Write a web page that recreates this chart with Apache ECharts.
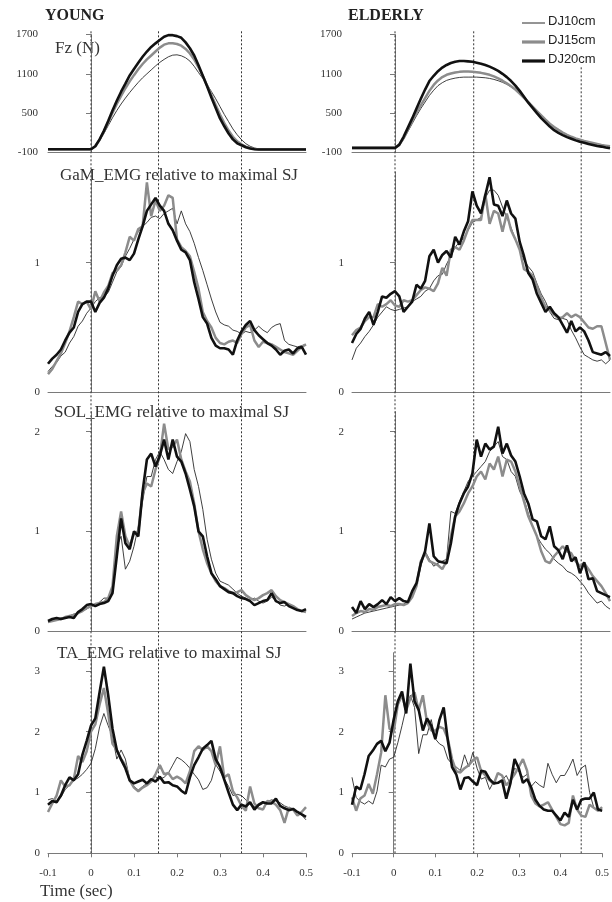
<!DOCTYPE html>
<html><head><meta charset="utf-8">
<script src="https://cdn.jsdelivr.net/npm/echarts@6/dist/echarts.min.js"></script>
<style>html,body{margin:0;padding:0;background:#fff}#c{width:612px;height:902px}</style>
</head><body><div id="c"></div>
<script>
const time = [-0.10,-0.09,-0.08,-0.07,-0.06,-0.05,-0.04,-0.03,-0.02,-0.01,0.00,
0.01,0.02,0.03,0.04,0.05,0.06,0.07,0.08,0.09,0.10,
0.11,0.12,0.13,0.14,0.15,0.16,0.17,0.18,0.19,0.20,
0.21,0.22,0.23,0.24,0.25,0.26,0.27,0.28,0.29,0.30,
0.31,0.32,0.33,0.34,0.35,0.36,0.37,0.38,0.39,0.40,
0.41,0.42,0.43,0.44,0.45,0.46,0.47,0.48,0.49,0.50];

const seriesNames = ['DJ10cm','DJ15cm','DJ20cm'];
const groupTitles = ['YOUNG','ELDERLY'];
const panelTitles = ['Fz (N)','GaM_EMG relative to maximal SJ','SOL_EMG relative to maximal SJ','TA_EMG relative to maximal SJ'];
const xTitle = 'Time (sec)';
const phaseYoung = [0, 0.157, 0.35];
const phaseElderly = [0, 0.183, 0.433];

// Fz (N)
const fzYoung10 = [-50,-50,-50,-50,-50,-50,-50,-50,-50,-50,-50,
-10,80,190,310,430,540,640,730,815,895,
970,1040,1100,1160,1220,1275,1320,1360,1385,1390,
1375,1345,1295,1215,1120,1030,935,830,720,600,
480,370,260,170,95,35,-5,-30,-45,-50,
-50,-50,-50,-50,-50,-50,-50,-50,-50,-50];
const fzYoung15 = [-50,-50,-50,-50,-50,-50,-50,-50,-50,-50,-50,
-5,95,220,360,505,640,765,880,985,1080,
1170,1250,1320,1380,1440,1500,1545,1565,1565,1555,
1530,1480,1410,1320,1200,1065,920,775,625,480,
350,235,140,70,25,-10,-30,-45,-50,-50,
-50,-50,-50,-50,-50,-50,-50,-50,-50,-50];
const fzYoung20 = [-50,-50,-50,-50,-50,-50,-50,-50,-50,-50,-50,
-5,100,230,380,540,690,827,950,1075,1175,
1270,1360,1440,1510,1565,1615,1665,1690,1690,1675,
1650,1580,1490,1380,1230,1070,910,740,580,420,
300,190,100,40,10,-20,-40,-50,-55,-55,
-55,-55,-55,-55,-55,-55,-55,-55,-55,-55];
const fzElderly10 = [-30,-30,-30,-30,-30,-30,-30,-30,-30,-30,-30,
10,100,220,340,460,570,670,770,850,920,
965,1000,1020,1035,1045,1050,1050,1050,1050,1045,
1040,1030,1015,995,970,940,900,855,800,740,
675,610,540,470,405,345,290,240,200,165,
135,110,90,70,55,40,25,10,0,-10];
const fzElderly15 = [-30,-30,-30,-30,-30,-30,-30,-30,-30,-30,-30,
15,120,250,380,510,620,730,840,930,1000,
1050,1085,1105,1120,1130,1135,1135,1130,1125,1115,
1100,1085,1060,1030,995,955,910,860,800,735,
670,600,530,465,400,340,290,245,205,170,
140,115,95,75,60,45,30,15,5,-5];
const fzElderly20 = [-30,-30,-30,-30,-30,-30,-30,-30,-30,-30,-30,
20,140,280,420,570,720,860,990,1070,1140,
1195,1235,1265,1285,1295,1295,1290,1285,1270,1255,
1235,1210,1180,1145,1100,1050,990,920,840,750,
660,580,500,425,360,295,240,200,165,135,
110,85,65,50,30,15,0,-10,-25,-35];

// GaM EMG
const gamYoung10 = [0.16,0.20,0.23,0.28,0.31,0.38,0.43,0.51,0.55,0.61,0.65,
0.70,0.73,0.74,0.77,0.85,0.93,0.97,1.05,1.11,1.18,
1.24,1.28,1.31,1.35,1.36,1.34,1.38,1.40,1.42,1.30,
1.40,1.30,1.24,1.15,1.04,0.94,0.83,0.72,0.62,0.54,
0.52,0.51,0.48,0.47,0.45,0.47,0.46,0.48,0.51,0.48,
0.46,0.50,0.52,0.53,0.40,0.37,0.36,0.35,0.36,0.37];
const gamYoung15 = [0.14,0.18,0.24,0.30,0.38,0.47,0.58,0.70,0.68,0.70,0.64,
0.78,0.70,0.77,0.82,0.92,0.94,0.98,1.08,1.20,1.17,
1.26,1.28,1.62,1.36,1.48,1.40,1.44,1.52,1.50,1.18,
1.12,1.09,1.05,0.93,0.80,0.62,0.55,0.50,0.42,0.38,
0.37,0.39,0.40,0.38,0.45,0.50,0.52,0.40,0.35,0.39,
0.38,0.37,0.35,0.33,0.31,0.30,0.29,0.32,0.35,0.37];
const gamYoung20 = [0.22,0.26,0.29,0.33,0.40,0.46,0.50,0.62,0.68,0.70,0.70,
0.62,0.69,0.73,0.80,0.90,0.98,1.03,1.04,1.02,1.07,
1.18,1.28,1.40,1.45,1.50,1.44,1.40,1.30,1.25,1.17,
1.10,1.08,1.02,0.85,0.72,0.58,0.53,0.42,0.36,0.34,
0.34,0.33,0.29,0.40,0.47,0.52,0.55,0.48,0.44,0.41,
0.38,0.36,0.33,0.29,0.32,0.33,0.30,0.34,0.35,0.29];
const gamElderly10 = [0.25,0.34,0.38,0.43,0.47,0.52,0.58,0.62,0.66,0.64,0.63,
0.64,0.65,0.66,0.70,0.72,0.74,0.78,0.80,0.86,0.90,
0.91,0.99,1.05,1.12,1.16,1.19,1.25,1.31,1.33,1.35,
1.50,1.56,1.56,1.52,1.43,1.35,1.27,1.18,1.10,1.02,
0.97,0.93,0.84,0.76,0.70,0.62,0.57,0.56,0.57,0.56,
0.48,0.42,0.35,0.29,0.27,0.25,0.24,0.25,0.22,0.25];
const gamElderly15 = [0.44,0.48,0.50,0.55,0.58,0.58,0.68,0.66,0.68,0.71,0.67,
0.66,0.71,0.70,0.71,0.75,0.79,0.81,0.80,0.78,0.84,
0.96,0.90,1.10,1.12,1.10,1.17,1.26,1.33,1.33,1.33,
1.53,1.30,1.40,1.38,1.24,1.38,1.25,1.18,1.10,0.95,
0.93,0.90,0.82,0.73,0.66,0.63,0.60,0.57,0.58,0.61,
0.58,0.60,0.58,0.54,0.50,0.49,0.51,0.51,0.38,0.25];
const gamElderly20 = [0.38,0.45,0.49,0.57,0.62,0.52,0.62,0.74,0.73,0.76,0.78,
0.74,0.62,0.66,0.70,0.83,0.80,0.86,1.05,1.10,1.00,
1.06,1.09,1.04,1.20,1.14,1.24,1.32,1.55,1.44,1.38,
1.52,1.66,1.45,1.44,1.36,1.48,1.38,1.34,1.16,1.05,
0.92,0.87,0.76,0.69,0.62,0.66,0.61,0.58,0.52,0.46,
0.55,0.47,0.50,0.47,0.40,0.31,0.30,0.29,0.31,0.28];

// SOL EMG
const solYoung10 = [0.09,0.10,0.12,0.13,0.14,0.15,0.17,0.18,0.20,0.22,0.25,
0.26,0.29,0.33,0.33,0.40,0.85,0.95,0.62,0.70,0.85,
1.05,1.30,1.55,1.55,1.72,1.80,1.72,1.62,1.58,1.70,
1.80,1.98,1.90,1.62,1.45,1.22,0.92,0.72,0.58,0.50,
0.48,0.46,0.42,0.38,0.35,0.33,0.31,0.33,0.30,0.28,
0.30,0.34,0.31,0.26,0.25,0.27,0.24,0.22,0.20,0.21];
const solYoung15 = [0.09,0.10,0.11,0.12,0.14,0.15,0.16,0.18,0.20,0.23,0.25,
0.27,0.28,0.29,0.33,0.45,0.95,1.20,0.95,0.85,0.98,
1.00,1.38,1.48,1.45,1.62,1.75,2.08,1.82,1.85,1.92,
1.72,1.60,1.50,1.28,1.00,0.82,0.68,0.58,0.50,0.45,
0.43,0.40,0.38,0.39,0.41,0.36,0.33,0.31,0.33,0.36,
0.38,0.41,0.35,0.31,0.29,0.27,0.25,0.22,0.20,0.19];
const solYoung20 = [0.10,0.12,0.13,0.12,0.13,0.14,0.13,0.19,0.22,0.26,0.27,
0.25,0.27,0.28,0.30,0.38,0.75,1.13,0.88,0.82,1.00,
0.95,1.40,1.72,1.78,1.65,1.76,1.92,1.72,1.92,1.75,
1.70,1.58,1.42,1.25,1.00,0.95,0.75,0.58,0.52,0.45,
0.42,0.39,0.38,0.35,0.33,0.32,0.30,0.26,0.28,0.30,
0.31,0.38,0.30,0.28,0.29,0.25,0.23,0.21,0.20,0.22];
const solElderly10 = [0.12,0.14,0.16,0.18,0.19,0.20,0.21,0.22,0.23,0.24,0.25,
0.26,0.27,0.30,0.35,0.45,0.65,0.80,0.72,0.65,0.68,
0.70,0.72,1.20,1.18,1.30,1.40,1.50,1.55,1.60,1.65,
1.70,1.80,1.85,1.90,1.75,1.72,1.60,1.55,1.40,1.32,
1.18,1.05,0.95,0.88,0.82,0.78,0.72,0.68,0.65,0.60,
0.58,0.55,0.50,0.45,0.38,0.33,0.28,0.30,0.25,0.22];
const solElderly15 = [0.15,0.18,0.20,0.19,0.22,0.21,0.24,0.25,0.26,0.25,0.27,
0.27,0.26,0.28,0.34,0.45,0.70,0.78,0.70,0.68,0.66,
0.62,0.70,0.95,1.15,1.20,1.28,1.38,1.45,1.55,1.60,
1.52,1.68,1.62,1.75,1.55,1.72,1.70,1.60,1.45,1.30,
1.15,1.05,0.95,0.80,0.70,0.68,0.75,0.80,0.85,0.80,
0.78,0.70,0.65,0.68,0.62,0.55,0.50,0.45,0.38,0.30];
const solElderly20 = [0.24,0.18,0.30,0.22,0.27,0.24,0.27,0.31,0.27,0.34,0.30,
0.33,0.30,0.29,0.40,0.48,0.68,0.80,1.08,0.75,0.70,
0.69,0.68,0.88,1.15,1.28,1.38,1.45,1.58,1.92,1.75,
1.88,1.82,1.85,2.05,1.78,1.88,1.76,1.70,1.55,1.38,
1.28,1.12,1.10,0.95,0.92,1.05,0.85,0.81,0.72,0.86,
0.70,0.74,0.58,0.69,0.52,0.53,0.40,0.38,0.36,0.34];

// TA EMG
const taYoung10 = [0.88,0.90,0.86,0.92,1.05,1.12,1.20,1.24,1.30,1.38,1.48,
1.72,2.08,2.30,2.10,1.92,1.55,1.70,1.55,1.22,1.10,
1.04,1.10,1.15,1.20,1.26,1.22,1.25,1.32,1.45,1.58,
1.54,1.48,1.40,1.30,1.21,1.05,1.08,1.20,1.46,1.35,
1.22,1.10,0.95,0.97,0.95,0.88,0.80,0.77,0.78,0.82,
0.85,0.88,0.86,0.83,0.78,0.75,0.72,0.68,0.63,0.55];
const taYoung15 = [0.68,0.82,0.95,1.20,1.10,1.12,1.22,1.60,1.50,1.68,2.00,
2.12,2.45,2.72,2.30,1.80,1.70,1.55,1.45,1.20,1.08,
1.02,1.08,1.12,1.18,1.30,1.45,1.30,1.32,1.22,1.26,
1.22,1.15,1.35,1.68,1.76,1.70,1.76,1.68,1.45,1.76,
1.25,1.30,1.02,0.92,0.78,0.70,1.10,0.82,0.74,0.72,
0.86,0.85,0.80,0.71,0.50,0.75,0.72,0.62,0.68,0.76];
const taYoung20 = [0.80,0.86,0.84,0.95,1.12,1.25,1.20,1.30,1.62,1.85,2.10,
2.22,2.65,3.07,2.60,2.05,1.70,1.54,1.40,1.20,1.15,
1.18,1.21,1.15,1.22,1.18,1.26,1.16,1.17,1.12,1.10,
1.03,0.98,1.25,1.45,1.58,1.72,1.78,1.85,1.55,1.42,
1.21,1.00,0.80,0.71,0.80,0.77,0.84,0.72,0.80,0.84,
0.82,0.82,0.90,0.78,0.74,0.71,0.73,0.68,0.64,0.60];
const taElderly10 = [1.25,0.92,0.85,0.81,0.86,0.81,1.02,1.45,1.42,1.55,1.58,
1.82,2.10,2.40,2.60,2.40,1.64,1.95,1.95,2.20,1.88,
1.80,1.76,1.55,1.47,1.42,1.36,1.62,1.42,1.66,1.40,
1.22,1.25,1.05,1.18,1.15,1.20,1.28,1.14,1.40,1.35,
1.25,1.30,1.10,1.18,1.12,1.08,1.48,1.30,1.16,1.28,
1.28,1.40,1.55,1.28,1.40,1.45,1.00,0.75,0.72,0.70];
const taElderly15 = [0.92,0.70,0.90,0.95,1.14,0.98,1.30,1.66,2.60,2.05,2.00,
2.45,2.60,2.35,2.55,2.65,2.35,2.60,2.15,2.02,2.02,
2.08,2.05,1.88,1.55,1.35,1.33,1.40,1.45,1.53,1.58,
1.35,1.28,1.20,1.14,1.32,1.28,1.12,1.20,1.30,1.42,
1.55,1.36,0.95,0.82,0.77,0.80,0.84,0.72,0.60,0.48,
0.46,0.50,0.95,0.72,0.62,0.60,0.80,0.75,0.70,0.76];
const taElderly20 = [0.80,1.10,1.05,1.30,1.60,1.69,1.80,1.85,1.68,1.82,2.20,
2.50,2.66,2.30,3.12,2.50,2.36,2.02,2.22,2.10,1.88,
2.20,2.40,1.85,1.42,1.30,1.05,1.24,1.25,1.18,1.12,
1.36,1.34,1.22,1.15,1.16,1.20,0.90,1.15,1.55,1.40,
1.16,1.22,1.08,0.88,0.78,0.72,0.70,0.70,0.62,0.54,
0.67,0.60,0.88,0.72,0.88,0.90,0.90,1.00,0.72,0.70];

const panelData = [
  [[fzYoung10,fzYoung15,fzYoung20],[fzElderly10,fzElderly15,fzElderly20]],
  [[gamYoung10,gamYoung15,gamYoung20],[gamElderly10,gamElderly15,gamElderly20]],
  [[solYoung10,solYoung15,solYoung20],[solElderly10,solElderly15,solElderly20]],
  [[taYoung10,taYoung15,taYoung20],[taElderly10,taElderly15,taElderly20]]
];

// layout / style
const cols = [{left:48,width:258},{left:352,width:258}];
const rows = [{top:34.5,height:118},{top:172,height:220.3},{top:411.7,height:219.3},{top:652.7,height:200.6}];
const yCfg = [
  {min:-100,max:1700,interval:600,vals:[-100,500,1100,1700],margin:10},
  {min:0,max:1.7,interval:1,vals:[0,1],margin:8},
  {min:0,max:2.2,interval:1,vals:[0,1,2],margin:8},
  {min:0,max:3.3,interval:1,vals:[0,1,2,3],margin:8}
];
const lineStyles = [
  {color:'#2a2a2a',width:0.9},
  {color:'#8c8c8c',width:2.5},
  {color:'#111111',width:2.6}
];
const serif = 'Liberation Serif';
const axisColor = '#7a7a7a';

const grids=[], xAxes=[], yAxes=[], series=[];
rows.forEach((r,ri)=>{
  cols.forEach((c,ci)=>{
    const gi = grids.length;
    grids.push({left:c.left,width:c.width,top:r.top,height:r.height,containLabel:false});
    const bottom = ri===rows.length-1;
    xAxes.push({type:'value',gridIndex:gi,min:-0.1,max:0.5,interval:0.1,
      axisLine:{show:true,onZero:false,lineStyle:{color:axisColor,width:1}},
      axisTick:{show:bottom,length:4,lineStyle:{color:axisColor}},
      axisLabel:{show:bottom,margin:14,fontFamily:serif,fontSize:11,color:'#333',hideOverlap:false},
      splitLine:{show:false}});
    const y = yCfg[ri];
    yAxes.push({type:'value',gridIndex:gi,min:y.min,max:y.max,interval:y.interval,
      axisLine:{show:true,lineStyle:{color:axisColor,width:1}},
      axisTick:{show:true,length:5,customValues:y.vals,lineStyle:{color:axisColor}},
      axisLabel:{show:true,customValues:y.vals,margin:y.margin,fontFamily:serif,fontSize:11,color:'#333',
        formatter:v=>String(v)},
      splitLine:{show:false}});
    panelData[ri][ci].forEach((vals,si)=>{
      series.push({type:'line',name:seriesNames[si],xAxisIndex:gi,yAxisIndex:gi,
        data:vals.map((v,i)=>[time[i],v]),symbol:'none',showSymbol:false,
        lineStyle:lineStyles[si],itemStyle:{color:lineStyles[si].color},z:2+si,silent:true});
    });
  });
});

// overlay grids for phase lines (full height)
const ovTop = 30, ovBottom = 853.3;
[phaseYoung,phaseElderly].forEach((ph,ci)=>{
  const gi = grids.length;
  grids.push({left:cols[ci].left,width:cols[ci].width,top:ovTop,height:ovBottom-ovTop});
  xAxes.push({type:'value',gridIndex:gi,min:-0.1,max:0.5,show:false});
  yAxes.push({type:'value',gridIndex:gi,min:0,max:1,show:false});
  ph.forEach((t,k)=>{
    const yTop = (ci===1 && k===2) ? 0.957 : 1;
    series.push({type:'line',name:'phase',xAxisIndex:gi,yAxisIndex:gi,
      data:[[t,0],[t,yTop]],symbol:'none',silent:true,z:1,
      lineStyle:{color:'#333',width:1,type:[2,2]}});
  });
});

// legend drawn as graphic (line samples + text)
const legendX = 522, legendY = [23,42,61];
const legendGraphics = [];
seriesNames.forEach((n,i)=>{
  legendGraphics.push({type:'line',shape:{x1:legendX,y1:legendY[i],x2:legendX+23,y2:legendY[i]},
    style:{stroke:lineStyles[i].color,lineWidth:i===0?1:3.2}});
  legendGraphics.push({type:'text',left:legendX+26,top:legendY[i]-8,
    style:{text:n,font:'13px "Liberation Sans"',fill:'#222'}});
});

const graphic = [
  {type:'text',left:45,top:8,style:{text:groupTitles[0],font:'bold 16px "Liberation Serif"',fill:'#222'}},
  {type:'text',left:348,top:8,style:{text:groupTitles[1],font:'bold 16px "Liberation Serif"',fill:'#222'}},
  {type:'text',left:55,top:40,style:{text:panelTitles[0],font:'17px "Liberation Serif"',fill:'#333'}},
  {type:'text',left:60,top:167,style:{text:panelTitles[1],font:'17px "Liberation Serif"',fill:'#333'}},
  {type:'text',left:54,top:404,style:{text:panelTitles[2],font:'17px "Liberation Serif"',fill:'#333'}},
  {type:'text',left:57,top:645,style:{text:panelTitles[3],font:'17px "Liberation Serif"',fill:'#333'}},
  {type:'text',left:40,top:883,style:{text:xTitle,font:'17px "Liberation Serif"',fill:'#333'}}
].concat(legendGraphics);

const chart = echarts.init(document.getElementById('c'),null,{renderer:'canvas'});
chart.setOption({
  animation:false,
  backgroundColor:'#fff',
  grid:grids, xAxis:xAxes, yAxis:yAxes, series:series,
  graphic:graphic
});
</script></body></html>
